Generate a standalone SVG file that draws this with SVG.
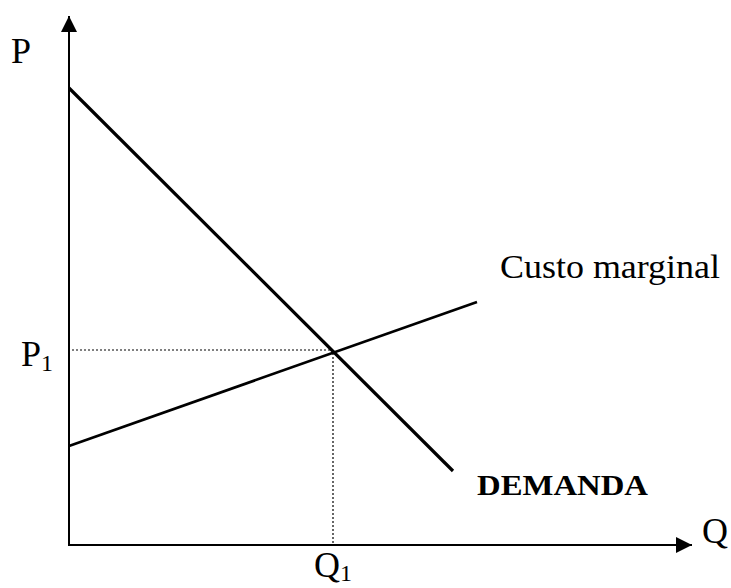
<svg xmlns="http://www.w3.org/2000/svg" width="731" height="588" viewBox="0 0 731 588">
<style>
.t{font-family:"Liberation Serif","Times New Roman",serif;fill:#000}
.ax{stroke:#000;stroke-width:2;fill:none}
.dot{stroke:#000;stroke-width:1.2;stroke-dasharray:2 2;fill:none}
</style>
<defs>
<marker id="arr" markerUnits="userSpaceOnUse" markerWidth="16" markerHeight="16" refX="16" refY="8" orient="auto" viewBox="0 0 16 16">
<path d="M0,0 L16,8 L0,16 Z" fill="#000"/>
</marker>
</defs>
<rect width="731" height="588" fill="#fff"/>
<g id="axes">
<line class="ax" x1="69" y1="545" x2="69" y2="16" marker-end="url(#arr)"/>
<line class="ax" x1="68" y1="545" x2="692" y2="545" marker-end="url(#arr)"/>
</g>
<g id="connectors">
<line id="demanda-line" x1="69" y1="88" x2="453" y2="471" stroke="#000" stroke-width="3.2"/>
<line id="custo-line" x1="69" y1="446" x2="477" y2="302" stroke="#000" stroke-width="2.6"/>
<line class="dot" x1="72" y1="350" x2="333" y2="350"/>
<line class="dot" x1="333" y1="353" x2="333" y2="544"/>
</g>
<g id="labels">
<text class="t" x="11" y="63" font-size="36">P</text>
<text class="t" x="21" y="366" font-size="36">P<tspan font-size="24" dy="5">1</tspan></text>
<text class="t" x="314" y="577" font-size="36">Q<tspan font-size="24" dy="4">1</tspan></text>
<text class="t" x="702" y="543" font-size="36">Q</text>
<text class="t" x="500" y="278" font-size="34" textLength="220" lengthAdjust="spacingAndGlyphs">Custo marginal</text>
<text class="t" x="477" y="495" font-size="30" font-weight="bold" textLength="171" lengthAdjust="spacingAndGlyphs">DEMANDA</text>
</g>
</svg>
